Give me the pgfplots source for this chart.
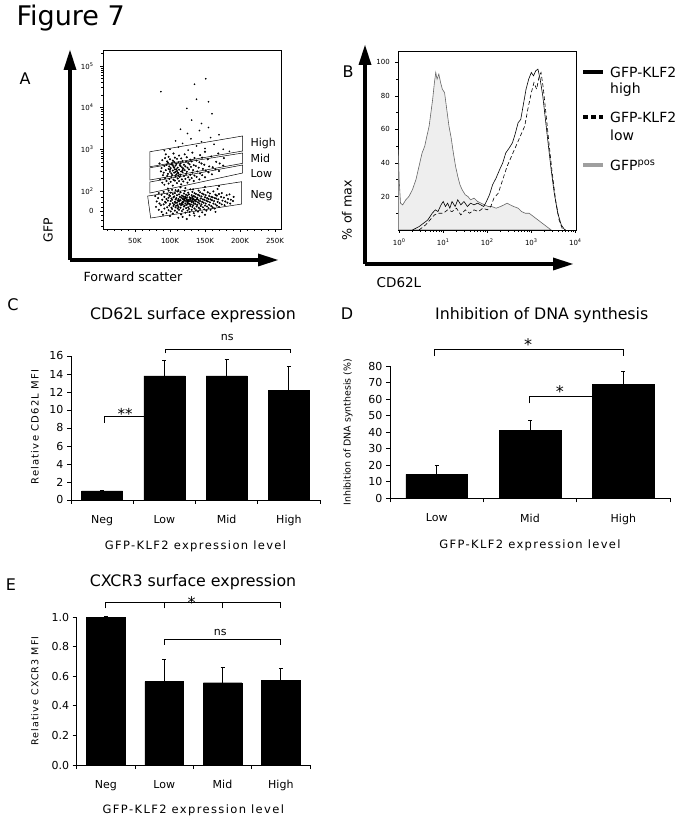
\documentclass[border=0pt]{standalone}
\usepackage{fontspec}
\setmainfont{DejaVu Sans}
\newfontfamily\spaced{DejaVu Sans}[LetterSpace=12.0]
\usepackage{pgfplots}
\pgfplotsset{compat=1.18}
\usetikzlibrary{arrows.meta}
\pgfplotsset{
 barax/.style={
   scale only axis, clip=false, anchor=south west,
   axis lines=left, axis line style={-, line width=0.9pt},
   tick align=outside, major tick length=4pt, minor tick length=4pt,
   tick style={line width=0.9pt, black},
   every tick label/.append style={font=\fontsize{11}{13}\selectfont},
   /pgf/number format/assume math mode=true,
   major x tick style={draw=none},
   xticklabel style={yshift=-8pt},
   ybar, bar width=0.66, bar shift=0pt,
   xlabel style={font=\spaced\fontsize{11.5}{13}\selectfont, anchor=center},
   ylabel style={font=\spaced\fontsize{10}{12}\selectfont, anchor=center},
 },
 barplot/.style={fill=black, draw=black,
   error bars/.cd, y dir=plus, y explicit,
   error bar style={line width=1pt, black},
   error mark options={rotate=90, mark size=2pt, line width=1pt, black}},
}
\begin{document}
\begin{tikzpicture}
\useasboundingbox (0pt,0pt) rectangle (683pt,824pt);
\begin{scope}[x=1pt,y=1pt]
% ---------- headings ----------
\node[anchor=west, font=\fontsize{27}{30}\selectfont] at (13,806) {Figure 7};
\node[font=\fontsize{16}{18}\selectfont] at (25,745) {A};
\node[font=\fontsize{16}{18}\selectfont] at (348,752) {B};
\node[font=\fontsize{16}{18}\selectfont] at (13,519) {C};
\node[font=\fontsize{16}{18}\selectfont] at (347,510) {D};
\node[font=\fontsize{16}{18}\selectfont] at (11,239) {E};
% panel A arrows
\draw[line width=3.3pt] (70,564) -- (261,564);
\draw[line width=3.3pt] (70,564) -- (70,757);
\fill (278,564) -- (258,570.5) -- (258,557.5) -- cycle;
\fill (70,774) -- (63.5,754) -- (76.5,754) -- cycle;
\node[rotate=90, font=\fontsize{12.4}{14}\selectfont] at (48,594) {GFP};
\node[font=\fontsize{12.6}{14}\selectfont] at (133,547) {Forward scatter};
% panel B arrows
\draw[line width=3.3pt] (365,560) -- (556,560);
\draw[line width=3.3pt] (365,560) -- (365,762);
\fill (573,560) -- (553,566.5) -- (553,553.5) -- cycle;
\fill (365,779) -- (358.5,759) -- (371.5,759) -- cycle;
\node[rotate=90, font=\fontsize{12.7}{14}\selectfont] at (347,614) {\% of max};
\node[font=\fontsize{13.5}{15}\selectfont] at (399,541) {CD62L};
% legend B
\draw[line width=3.3pt] (583,752) -- (603,752);
\draw[line width=3.3pt, dash pattern=on 5pt off 3pt] (583,707) -- (603,707);
\draw[line width=3.3pt, gray!75] (583,659) -- (603,659);
\begin{scope}[every node/.style={anchor=west, font=\fontsize{14}{16}\selectfont, inner sep=0pt}]
\node at (610,752) {GFP-KLF2};
\node at (610,734) {high};
\node at (610,707) {GFP-KLF2};
\node at (610,689) {low};
\node at (610,659) {GFP\textsuperscript{pos}};
\end{scope}
% titles
\node[font=\fontsize{15.8}{18}\selectfont] at (193,509) {CD62L surface expression};
\node[font=\fontsize{15.8}{18}\selectfont] at (541.7,509) {Inhibition of DNA synthesis};
\node[font=\fontsize{15.8}{18}\selectfont] at (193,242.3) {CXCR3 surface expression};
\end{scope}

% ---------- panel A ----------
\begin{axis}[at={(103pt,595pt)}, anchor=south west, scale only axis,
  width=178pt, height=179pt, xmin=4.3, xmax=258.6, ymin=1.09, ymax=5.38,
  xtick={50,100,150,200,250}, xticklabels={50K,100K,150K,200K,250K},
  minor xtick={10,20,30,40,60,70,80,90,110,120,130,140,160,170,180,190,210,220,230,240},
  ytick={1.52,2,3,4,5},
  yticklabels={0,10\textsuperscript{2},10\textsuperscript{3},10\textsuperscript{4},10\textsuperscript{5}},
  minor ytick={1.15,1.30,1.42,1.62,1.74,1.86,2.301,2.477,2.602,2.699,2.778,2.845,2.903,2.954,3.301,3.477,3.602,3.699,3.778,3.845,3.903,3.954,4.301,4.477,4.602,4.699,4.778,4.845,4.903,4.954,5.301},
  tick align=outside, xtick pos=bottom, ytick pos=left,
  major tick length=3pt, minor tick length=2pt,
  tick style={black, line width=0.5pt}, axis line style={line width=0.6pt},
  tick label style={font=\fontsize{7}{8}\selectfont},
  xticklabel style={yshift=-3pt}, yticklabel style={xshift=-3pt},
  /pgf/number format/assume math mode=true, clip=false]
% Neg population
\addplot[only marks, mark=*, mark size=0.8pt, black] coordinates {
(80,1.62) (81,1.75) (79,1.88)
(84,1.55) (85,1.70) (83,1.83) (84,1.95)
(88,1.50) (87,1.66) (89,1.79) (88,1.91)
(92,1.58) (91,1.68) (93,1.74) (92,1.86) (91,1.98)
(95,1.47) (96,1.61) (94,1.72) (95,1.81) (96,1.93)
(98,1.54) (99,1.65) (97,1.77) (98,1.84) (99,1.90) (98,2.01)
(101,1.51) (102,1.60) (100,1.69) (101,1.76) (102,1.82) (100,1.88) (101,1.96)
(104,1.46) (103,1.57) (105,1.64) (104,1.71) (103,1.79) (105,1.85) (104,1.93) (103,2.03)
(107,1.53) (108,1.61) (106,1.68) (107,1.74) (108,1.80) (106,1.87) (107,1.95)
(110,1.49) (111,1.58) (109,1.65) (110,1.72) (111,1.77) (109,1.83) (110,1.90) (111,1.99)
(113,1.55) (112,1.62) (114,1.69) (113,1.75) (112,1.81) (114,1.86) (113,1.92) (112,2.02)
(116,1.44) (117,1.52) (115,1.60) (116,1.66) (117,1.71) (115,1.78) (116,1.84) (117,1.89) (115,1.97)
(119,1.56) (120,1.63) (118,1.68) (119,1.73) (120,1.79) (118,1.82) (119,1.87) (120,1.94)
(122,1.48) (123,1.59) (121,1.65) (122,1.70) (123,1.76) (121,1.81) (122,1.86) (123,1.91) (121,2.00)
(125,1.53) (126,1.61) (124,1.67) (125,1.72) (126,1.78) (124,1.84) (125,1.89) (126,1.96)
(128,1.50) (127,1.57) (129,1.64) (128,1.69) (127,1.75) (129,1.80) (128,1.85) (127,1.92) (129,2.04)
(131,1.55) (132,1.62) (130,1.68) (131,1.74) (132,1.79) (130,1.83) (131,1.90) (132,1.98)
(134,1.47) (135,1.58) (133,1.66) (134,1.71) (135,1.77) (133,1.82) (134,1.88) (135,1.95)
(137,1.54) (138,1.63) (136,1.69) (137,1.75) (138,1.80) (136,1.86) (137,1.93)
(140,1.51) (141,1.60) (139,1.67) (140,1.73) (141,1.78) (139,1.84) (140,1.91) (141,2.01)
(143,1.57) (144,1.64) (142,1.70) (143,1.76) (144,1.82) (142,1.89) (143,1.97)
(146,1.49) (147,1.61) (145,1.68) (146,1.74) (147,1.80) (145,1.87) (146,1.94)
(149,1.56) (150,1.65) (148,1.72) (149,1.79) (150,1.85) (148,1.92) (149,2.02)
(152,1.53) (153,1.63) (151,1.70) (152,1.77) (153,1.83) (151,1.90)
(155,1.59) (156,1.67) (154,1.75) (155,1.81) (156,1.88) (154,1.97)
(158,1.55) (159,1.64) (157,1.73) (158,1.80) (159,1.86) (157,1.94)
(161,1.61) (162,1.70) (160,1.78) (161,1.85) (162,1.99)
(164,1.58) (165,1.68) (163,1.76) (164,1.83) (165,1.91)
(167,1.65) (168,1.74) (166,1.82) (167,1.89) (168,2.05)
(170,1.62) (171,1.71) (169,1.80) (170,1.93)
(174,1.68) (175,1.77) (173,1.86) (174,1.95)
(178,1.66) (179,1.75) (177,1.84)
(182,1.72) (183,1.81) (181,1.90)
(186,1.70) (187,1.79) (185,1.92)
(190,1.76) (191,1.86)
(100,1.40) (118,1.38) (135,1.41) (150,1.43) (112,1.36) (128,1.42) (165,1.50) (90,1.43) (124,1.33) (142,1.39)
(118,1.74) (121,1.77) (124,1.80) (127,1.78) (130,1.76) (133,1.74) (116,1.69) (126,1.70) (129,1.83) (122,1.83)
(136,1.78) (139,1.81) (113,1.78) (108,1.72) (111,1.66) (120,1.86) (132,1.86) (134,1.80) (125,1.76) (119,1.80)
};
% Low / Mid / High population
\addplot[only marks, mark=*, mark size=0.8pt, black] coordinates {
(86,2.28) (87,2.47) (85,2.66)
(89,2.20) (90,2.38) (88,2.55) (89,2.74)
(92,2.15) (93,2.31) (91,2.44) (92,2.60) (93,2.79)
(95,2.24) (96,2.36) (94,2.50) (95,2.63) (96,2.71) (94,2.88)
(98,2.18) (99,2.29) (97,2.41) (98,2.53) (99,2.59) (97,2.68) (98,2.82)
(101,2.22) (102,2.33) (100,2.46) (101,2.55) (102,2.64) (100,2.76)
(104,2.13) (105,2.27) (103,2.38) (104,2.49) (105,2.58) (103,2.67) (104,2.73) (105,2.90)
(107,2.25) (108,2.35) (106,2.44) (107,2.52) (108,2.61) (106,2.70) (107,2.80)
(110,2.19) (111,2.30) (109,2.40) (110,2.48) (111,2.56) (109,2.65) (110,2.77)
(113,2.24) (114,2.34) (112,2.43) (113,2.51) (114,2.62) (112,2.69) (113,2.85)
(116,2.16) (117,2.28) (115,2.39) (116,2.47) (117,2.57) (115,2.66) (116,2.78)
(119,2.23) (120,2.36) (118,2.45) (119,2.54) (120,2.63) (118,2.72)
(122,2.29) (123,2.41) (121,2.50) (122,2.59) (123,2.70) (121,2.88)
(125,2.20) (126,2.33) (124,2.46) (125,2.56) (126,2.67) (124,2.81)
(128,2.27) (129,2.39) (127,2.52) (128,2.64) (129,2.75)
(131,2.31) (132,2.44) (130,2.58) (131,2.71) (132,2.92)
(134,2.24) (135,2.37) (133,2.50) (134,2.62) (135,2.79)
(138,2.34) (139,2.47) (137,2.60) (138,2.73)
(142,2.28) (143,2.42) (141,2.56) (142,2.69) (143,2.86)
(146,2.38) (147,2.53) (145,2.66) (146,2.80)
(150,2.33) (151,2.49) (149,2.63) (150,2.94)
(155,2.45) (156,2.59) (154,2.76)
(160,2.40) (161,2.57) (159,2.83)
(165,2.52) (166,2.70)
(170,2.48) (171,2.66) (169,2.90)
(176,2.61) (177,2.79)
(102,2.42) (106,2.56) (109,2.52) (112,2.37) (115,2.60) (104,2.62) (108,2.46) (118,2.50) (100,2.51) (111,2.44)
(97,2.06) (115,2.09) (133,2.04) (150,2.10) (170,2.12) (122,2.07) (108,2.02)
};
% sparse high events
\addplot[only marks, mark=*, mark size=0.6pt, black] coordinates {
(100,3.00) (112,3.05) (126,2.98) (138,3.08) (150,3.02) (163,3.12) (176,3.00) (118,3.14) (185,2.95) (92,2.97) (145,3.18) (130,3.25) (108,3.20) (158,3.28)
(125,3.38) (142,3.45) (170,3.35) (155,3.52) (115,3.48)
(87,4.38) (135,4.56) (151,4.69) (155,4.14) (124,3.98) (131,3.70) (145,3.62) (160,3.85) (138,4.20)
};
\draw[line width=0.5pt] (axis cs:71.4,2.942) -- (axis cs:203.9,3.319) -- (axis cs:203.9,2.959) -- (axis cs:71.4,2.583) -- cycle;
\draw[line width=0.5pt] (axis cs:71.4,2.559) -- (axis cs:203.9,2.911) -- (axis cs:203.9,2.664) -- (axis cs:71.4,2.264) -- cycle;
\draw[line width=0.5pt] (axis cs:71.4,2.216) -- (axis cs:203.9,2.624) -- (axis cs:203.9,2.432) -- (axis cs:71.4,1.952) -- cycle;
\draw[line width=0.5pt] (axis cs:68.1,1.880) -- (axis cs:202.4,2.223) -- (axis cs:202.4,1.688) -- (axis cs:72.4,1.353) -- cycle;
\node[anchor=west, font=\fontsize{11}{12}\selectfont] at (axis cs:210,3.15) {High};
\node[anchor=west, font=\fontsize{11}{12}\selectfont] at (axis cs:210,2.79) {Mid};
\node[anchor=west, font=\fontsize{11}{12}\selectfont] at (axis cs:210,2.43) {Low};
\node[anchor=west, font=\fontsize{11}{12}\selectfont] at (axis cs:210,1.90) {Neg};
\end{axis}

% ---------- panel B ----------
\begin{axis}[at={(398.3pt,594pt)}, anchor=south west, scale only axis,
  width=178.4pt, height=178.3pt, xmin=-0.02, xmax=4.03, ymin=0, ymax=106.4,
  xtick={0,1,2,3,4},
  xticklabels={10\textsuperscript{0},10\textsuperscript{1},10\textsuperscript{2},10\textsuperscript{3},10\textsuperscript{4}},
  minor xtick={0.301,0.477,0.602,0.699,0.778,0.845,0.903,0.954,1.301,1.477,1.602,1.699,1.778,1.845,1.903,1.954,2.301,2.477,2.602,2.699,2.778,2.845,2.903,2.954,3.301,3.477,3.602,3.699,3.778,3.845,3.903,3.954},
  ytick={20,40,60,80,100}, minor ytick={10,30,50,70,90},
  tick align=outside, xtick pos=bottom, ytick pos=left,
  major tick length=3pt, minor tick length=2pt,
  tick style={black, line width=0.5pt}, axis line style={line width=0.6pt},
  tick label style={font=\fontsize{7}{8}\selectfont},
  xticklabel style={yshift=-2pt}, yticklabel style={xshift=-2pt},
  /pgf/number format/assume math mode=true]
\addplot[fill=gray!13, draw=gray!80!black, line width=0.6pt] coordinates {
(-0.02,0) (-0.02,48) (0.0,30) (0.03,16) (0.08,15) (0.15,18) (0.22,20) (0.3,24) (0.38,30) (0.45,38) (0.52,46) (0.58,50) (0.62,55) (0.68,62) (0.72,70) (0.76,78) (0.8,88) (0.83,94) (0.86,90) (0.9,93) (0.94,88) (0.98,84) (1.03,82) (1.08,72) (1.13,62) (1.18,55) (1.23,46) (1.28,38) (1.33,32) (1.38,27) (1.43,24) (1.5,21) (1.56,20) (1.62,18) (1.7,19) (1.78,17) (1.86,16) (1.94,15) (2.02,14) (2.1,14) (2.2,13) (2.3,14) (2.38,15) (2.45,16) (2.52,15) (2.6,14) (2.7,13) (2.78,11) (2.86,10) (2.95,10) (3.05,8) (3.15,6) (3.25,4) (3.35,2) (3.45,0)
} -- cycle;
\addplot[black, line width=0.6pt] coordinates {
(0.3,0) (0.45,2) (0.55,4) (0.65,6) (0.75,10) (0.82,12) (0.88,11) (0.95,15) (1.0,17) (1.05,14) (1.1,16) (1.15,13) (1.2,17) (1.27,14) (1.33,18) (1.4,15) (1.47,17) (1.55,14) (1.62,16) (1.7,15) (1.78,16) (1.85,15) (1.92,14) (1.98,17) (2.05,21) (2.12,27) (2.2,31) (2.28,36) (2.35,40) (2.42,46) (2.5,49) (2.57,52) (2.63,57) (2.7,64) (2.76,66) (2.82,75) (2.88,84) (2.94,90) (3.0,94) (3.05,92) (3.1,95) (3.15,96) (3.2,90) (3.26,80) (3.32,66) (3.38,52) (3.45,36) (3.52,22) (3.6,10) (3.68,3) (3.76,0)
};
\addplot[black, line width=0.6pt, dash pattern=on 4pt off 2.5pt] coordinates {
(0.45,0) (0.6,3) (0.7,6) (0.8,9) (0.9,10) (1.0,10) (1.1,12) (1.2,11) (1.3,13) (1.4,9) (1.5,12) (1.6,10) (1.7,12) (1.8,11) (1.9,13) (2.0,12) (2.08,14) (2.15,19) (2.25,22) (2.35,30) (2.45,38) (2.55,44) (2.65,50) (2.75,56) (2.85,62) (2.92,72) (3.0,82) (3.06,88) (3.12,84) (3.18,92) (3.22,94) (3.27,85) (3.33,70) (3.4,52) (3.47,35) (3.55,18) (3.63,6) (3.7,1) (3.78,0)
};
\end{axis}

% ---------- panel C ----------
\begin{axis}[barax, at={(71pt,324pt)}, width=249pt, height=144pt,
  xmin=0, xmax=4, ymin=0, ymax=16, ytick={0,2,...,16},
  xtick={0.5,1.5,2.5,3.5}, xticklabels={Neg,Low,Mid,High}, minor xtick={0,1,2,3,4},
  xlabel={GFP-KLF2 expression level}, xlabel style={at={(axis description cs:0.5,-0.324)}},
  ylabel={Relative CD62L MFI}, ylabel style={at={(axis description cs:-0.145,0.507)}}]
\addplot[barplot] coordinates {(0.5,1.0) +- (0,0.06) (1.5,13.8) +- (0,1.7) (2.5,13.8) +- (0,1.8) (3.5,12.2) +- (0,2.6)};
\draw[line width=0.9pt] (axis cs:0.53,8.56) -- (axis cs:0.53,9.26) -- (axis cs:1.19,9.26);
\node[font=\fontsize{15}{16}\selectfont] at (axis cs:0.87,9.6) {**};
\draw[line width=0.9pt] (axis cs:1.51,16.3) -- (axis cs:1.51,16.74) -- (axis cs:3.52,16.74) -- (axis cs:3.52,16.3);
\node[font=\fontsize{11}{12}\selectfont] at (axis cs:2.51,18.0) {ns};
\end{axis}

% ---------- panel D ----------
\begin{axis}[barax, at={(390pt,325.7pt)}, width=280pt, height=132pt,
  xmin=0, xmax=3, ymin=0, ymax=80, ytick={0,10,...,80},
  xtick={0.5,1.5,2.5}, xticklabels={Low,Mid,High}, minor xtick={0,1,2,3},
  xlabel={GFP-KLF2 expression level}, xlabel style={at={(axis description cs:0.5,-0.36)}},
  ylabel={Inhibition of DNA synthesis (\%)},
  ylabel style={font=\fontsize{9.4}{10}\selectfont, at={(axis description cs:-0.15,0.5)}}]
\addplot[barplot] coordinates {(0.5,14.5) +- (0,5.5) (1.5,41) +- (0,6) (2.5,69) +- (0,8)};
\draw[line width=0.9pt] (axis cs:0.48,86.2) -- (axis cs:0.48,90.3) -- (axis cs:2.5,90.3) -- (axis cs:2.5,86.2);
\node[font=\fontsize{16}{16}\selectfont] at (axis cs:1.48,93) {*};
\draw[line width=0.9pt] (axis cs:1.49,57.6) -- (axis cs:1.49,61.6) -- (axis cs:2.17,61.6);
\node[font=\fontsize{16}{16}\selectfont] at (axis cs:1.82,64.5) {*};
\end{axis}

% ---------- panel E ----------
\begin{axis}[barax, at={(76.7pt,59pt)}, width=233.3pt, height=147.7pt,
  xmin=0, xmax=4, ymin=0, ymax=1, ytick={0,0.2,...,1.0},
  yticklabel={\pgfmathprintnumber[fixed, fixed zerofill, precision=1]{\tick}},
  xtick={0.5,1.5,2.5,3.5}, xticklabels={Neg,Low,Mid,High}, minor xtick={0,1,2,3,4},
  xlabel={GFP-KLF2 expression level}, xlabel style={at={(axis description cs:0.5,-0.31)}},
  ylabel={Relative CXCR3 MFI},
  ylabel style={font=\spaced\fontsize{9.5}{11}\selectfont, at={(axis description cs:-0.179,0.5)}}]
\addplot[barplot] coordinates {(0.5,1.0) +- (0,0.005) (1.5,0.564) +- (0,0.147) (2.5,0.557) +- (0,0.102) (3.5,0.575) +- (0,0.075)};
\draw[line width=0.9pt] (axis cs:0.5,1.061) -- (axis cs:0.5,1.099) -- (axis cs:3.5,1.099) -- (axis cs:3.5,1.061);
\draw[line width=0.9pt] (axis cs:1.5,1.061) -- (axis cs:1.5,1.099);
\draw[line width=0.9pt] (axis cs:2.5,1.061) -- (axis cs:2.5,1.099);
\node[font=\fontsize{16}{16}\selectfont] at (axis cs:1.97,1.10) {*};
\draw[line width=0.9pt] (axis cs:1.5,0.8125) -- (axis cs:1.5,0.851) -- (axis cs:3.5,0.851) -- (axis cs:3.5,0.8125);
\node[font=\fontsize{11}{12}\selectfont] at (axis cs:2.46,0.896) {ns};
\end{axis}
\end{tikzpicture}
\end{document}
